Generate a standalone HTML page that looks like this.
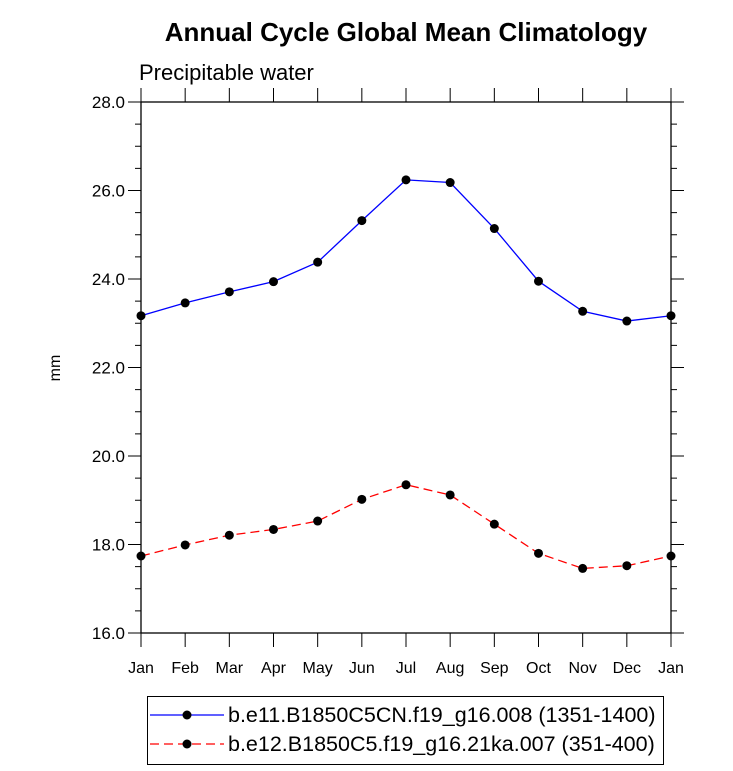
<!DOCTYPE html>
<html><head><meta charset="utf-8"><style>body{margin:0;background:#fff}svg{display:block;font-family:"Liberation Sans",sans-serif}</style></head>
<body>
<svg id="c" width="733" height="771">
<text x="406" y="41" text-anchor="middle" font-size="26" font-weight="bold">Annual Cycle Global Mean Climatology</text>
<text x="139" y="80" font-size="22">Precipitable water</text>
<text transform="translate(60,368) rotate(-90)" text-anchor="middle" font-size="16">mm</text>
<g id="axes"></g><g id="series"></g>
<g>
<rect x="147.5" y="696.5" width="516" height="68" fill="none" stroke="#000"/>
<g>
<line x1="150" y1="715" x2="224" y2="715" stroke="#0000ff" stroke-width="1.3"/><circle cx="187" cy="715" r="4.5"/>
<text x="228" y="722" font-size="21.5">b.e11.B1850C5CN.f19_g16.008 (1351-1400)</text></g>
<g>
<line x1="150" y1="744" x2="224" y2="744" stroke="#ff0000" stroke-width="1.3" stroke-dasharray="9,5"/><circle cx="187" cy="744" r="4.5"/>
<text x="228" y="751" font-size="21.5">b.e12.B1850C5.f19_g16.21ka.007 (351-400)</text></g>
</g>
</svg>
<script>
const months=["Jan","Feb","Mar","Apr","May","Jun","Jul","Aug","Sep","Oct","Nov","Dec","Jan"];
const blueVals=[23.17,23.46,23.71,23.94,24.38,25.32,26.24,26.18,25.14,23.95,23.27,23.05,23.17];
const redVals=[17.74,17.99,18.21,18.34,18.53,19.02,19.35,19.12,18.46,17.80,17.46,17.52,17.74];
const yTicks=["16.0","18.0","20.0","22.0","24.0","26.0","28.0"];
const L=141,R=671,T=102,B=633,ymin=16,ymax=28;
const xs=i=>L+i*(R-L)/(months.length-1);
const ys=v=>B-(v-ymin)/(ymax-ymin)*(B-T);
const NS="http://www.w3.org/2000/svg";
function mk(p,t,a){const e=document.createElementNS(NS,t);for(const k in a)e.setAttribute(k,a[k]);p.appendChild(e);return e;}
const ax=document.getElementById('axes');
const fr=mk(ax,'rect',{x:L,y:T,width:R-L,height:B-T,fill:'none',stroke:'#000','stroke-width':1.3});


for(let v=ymin;v<=ymax+1e-9;v+=0.5){const maj=Math.abs(v/2-Math.round(v/2))<1e-9;const len=maj?13:6;const y=ys(v);
mk(ax,'line',{x1:L-len,y1:y,x2:L,y2:y,stroke:'#000'});mk(ax,'line',{x1:R,y1:y,x2:R+len,y2:y,stroke:'#000'});}
yTicks.forEach(t=>{const e=mk(ax,'text',{x:L-16,y:ys(parseFloat(t))+6,'text-anchor':'end','font-size':17});e.textContent=t;

});
months.forEach((m,i)=>{const x=xs(i);mk(ax,'line',{x1:x,y1:B,x2:x,y2:B+14,stroke:'#000'});mk(ax,'line',{x1:x,y1:T-14,x2:x,y2:T,stroke:'#000'});
const e=mk(ax,'text',{x:x,y:B+40,'text-anchor':'middle','font-size':16});e.textContent=m;

});
const sg=document.getElementById('series');
function series(vals,col,dash,name){const g=mk(sg,'g',{});


mk(g,'polyline',{points:vals.map((v,i)=>xs(i)+','+ys(v)).join(' '),fill:'none',stroke:col,'stroke-width':1.3,'stroke-dasharray':dash});
vals.forEach((v,i)=>{const c=mk(g,'circle',{cx:xs(i),cy:ys(v),r:4.5,fill:'#000'});

});}
series(blueVals,'#0000ff','none','blue-series');
series(redVals,'#ff0000','9,5','red-series');
</script>
</body></html>
